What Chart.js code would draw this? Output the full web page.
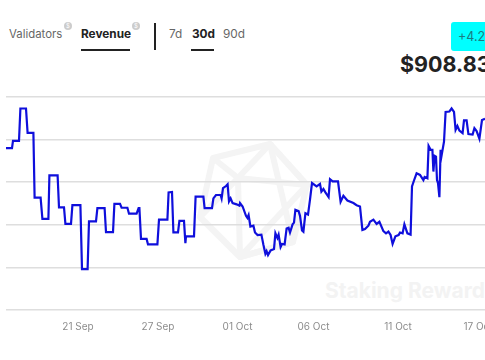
<!DOCTYPE html>
<html>
<head>
<meta charset="utf-8">
<script src="https://cdn.jsdelivr.net/npm/chart.js@4"></script>
<style>
html, body { margin: 0; padding: 0; background: #fff; width: 485px; height: 360px; overflow: hidden; }
body { position: relative; font-family: Inter, "Open Sans", sans-serif; color: #666; }
.txt { position: absolute; white-space: nowrap; font-size: 11.8px; line-height: 16px; }
.on { color: #222; font-weight: 700; }
.bar { position: absolute; background: #222; }
.info { position: absolute; width: 8px; height: 8px; border-radius: 50%; background: #ccc; color: #fff; font-size: 6px; line-height: 8px; text-align: center; }
#badge { position: absolute; left: 451px; top: 22px; width: 40px; height: 29px; background: #00ffff; border-radius: 3px; color: #1b7c80; font-size: 12.5px; line-height: 29px; padding-left: 7px; box-sizing: border-box; white-space: nowrap; }
#price { position: absolute; left: 400px; top: 51px; font-size: 21.5px; line-height: 26px; font-weight: 700; color: #222; white-space: nowrap; }
#mark { position: absolute; left: 325px; top: 279px; font-size: 21px; line-height: 24px; font-weight: 700; color: #f3f3f3; white-space: nowrap; }
#logo { position: absolute; left: 0; top: 0; }
#chartBox { position: absolute; left: 0; top: 0; width: 485px; height: 360px; }
</style>
</head>
<body>
<svg id="logo" width="485" height="360">
  <g fill="none" stroke="#f4f4f4" stroke-width="6" stroke-linejoin="round">
    <polygon points="213,158 270,144 307,185 293,242 240,257 200,217"/>
    <polyline points="213,158 238,178 270,144 307,185 238,178 200,217 240,257 238,178"/>
    <polyline points="270,144 293,242 240,257 307,185"/>
  </g>
</svg>
<div id="mark">Staking Rewards</div>

<div class="txt" style="left:9px;top:26px;font-size:11.4px">Validators</div>
<div class="info" style="left:64px;top:22px">$</div>
<div class="txt on" style="left:81px;top:26px">Revenue</div>
<div class="info" style="left:132px;top:22px">$</div>
<div class="bar" style="left:81px;top:49px;width:49px;height:2px"></div>
<div class="bar" style="left:154px;top:23px;width:2px;height:27px"></div>
<div class="txt" style="left:169px;top:26px">7d</div>
<div class="txt on" style="left:192px;top:26px">30d</div>
<div class="bar" style="left:191px;top:49px;width:23px;height:2px"></div>
<div class="txt" style="left:223px;top:26px">90d</div>
<div id="badge">+4.21%</div>
<div id="price">$908.83</div>

<div id="chartBox"><canvas id="revenueChart"></canvas></div>

<script>
// Position of each reading along the (uneven) time axis
const samples = [
    0, 3, 3.5, 6.5, 7.2, 10, 10.8, 13.7, 14.3, 17.3, 18.2, 21.2, 21.7, 25.8, 26.5, 29, 29.7, 32.5, 33.2, 37.2,
    38, 40.8, 41.5, 45, 45.7, 49.3, 50, 53.5, 54.2, 57, 57.8, 60.7, 61.5, 65.3, 66.3, 66.7, 67.5, 70.3, 71, 75.7,
    76.5, 80.7, 81.3, 83, 83.7, 86, 86.7, 89, 89.7, 90, 94, 94.8, 98.7, 99.3, 103, 103.7, 105, 107.3, 107.8, 108.5,
    110, 110.8, 111.5, 112.3, 113.3, 115.3, 116.7, 117, 118.3, 120, 120.7, 121.3, 122.2, 123.7, 124.5, 125.8, 127.7, 128.7, 129.7, 130.3,
    131, 132.3, 134, 134.7, 135.7, 136.3, 137.3, 138, 139.3, 140.3, 141.3, 142, 143.3, 144, 144.7, 146.3, 147, 148, 148.7, 149.7,
    151, 152, 153, 155.3, 157, 157.7, 158.7, 159.7, 161.3, 162, 163.3, 166, 167.3, 168.7, 170.7, 173.7, 175.3, 177, 178.2, 179.5,
    181.2, 182, 183.7, 185.3, 186.7, 188.7, 190, 191.2, 192.3, 193.3, 194.7, 196.3, 197, 198.3, 199.2, 200.7, 202.3, 203, 204, 205.3,
    207, 208.7, 209.3, 210.7, 211.3, 212.3, 213.2, 213.7, 214.3, 215, 215.5, 216, 216.7, 217.3, 217.7, 219, 219.8, 221.7, 222.8, 224,
    224.8, 225.7, 226.7, 228.3, 229, 230.3, 231.2, 233.3, 234.2, 235.3, 236.7, 238, 239.5
];
// Revenue in dollars
const revenue = [
    840, 840, 857, 857, 933, 933, 876, 876, 724, 724, 674, 674, 776, 776, 701, 701, 662, 662, 706, 706,
    556, 556, 668, 668, 699, 699, 643, 643, 709, 709, 700, 700, 686, 686, 699, 699, 627, 627, 614, 614,
    672, 672, 736, 737, 642, 642, 669, 669, 617, 633, 633, 726, 726, 699, 699, 722, 730, 730, 722, 746,
    751, 755, 715, 722, 711, 708, 705, 711, 703, 681, 676, 683, 656, 658, 642, 636, 637, 613, 592, 598,
    589, 600, 603, 640, 629, 637, 608, 615, 614, 651, 653, 642, 661, 665, 695, 692, 681, 647, 644, 687,
    684, 719, 758, 750, 756, 738, 744, 736, 725, 767, 762, 762, 714, 728, 717, 711, 706, 703, 648, 650,
    658, 667, 672, 662, 667, 645, 640, 644, 636, 615, 633, 636, 642, 640, 661, 640, 637, 750, 764, 781,
    777, 765, 772, 769, 845, 836, 836, 785, 822, 820, 765, 758, 725, 836, 820, 855, 925, 926, 933, 925,
    883, 892, 881, 875, 905, 905, 873, 872, 887, 880, 862, 906, 908.83
];
const tickPositions = [36, 76, 115.75, 153.75, 196, 236];
const tickLabels = ['21 Sep', '27 Sep', '01 Oct', '06 Oct', '11 Oct', '17 Oct'];

const points = samples.map((s, i) => ({ x: s, y: revenue[i] }));

const ctx = document.getElementById('revenueChart').getContext('2d');
new Chart(ctx, {
    type: 'line',
    data: {
        datasets: [{
            data: points,
            borderColor: '#0f0fdc',
            borderWidth: 2.2,
            pointRadius: 0,
            tension: 0,
            fill: false,
            clip: false
        }]
    },
    options: {
        responsive: true,
        maintainAspectRatio: false,
        animation: false,
        layout: { padding: { left: 6, right: 0, top: 97, bottom: 0 } },
        plugins: { legend: { display: false }, tooltip: { enabled: false } },
        scales: {
            x: {
                type: 'linear',
                min: 0,
                max: 239.5,
                grid: { display: false, drawTicks: false },
                border: { display: false },
                afterBuildTicks: (axis) => { axis.ticks = tickPositions.map(v => ({ value: v })); },
                afterFit: (axis) => { axis.height = 50; axis.paddingLeft = 0; axis.paddingRight = 0; },
                ticks: {
                    autoSkip: false,
                    maxRotation: 0,
                    padding: 11,
                    color: '#8c8c8c',
                    font: { family: 'Inter', size: 10 },
                    callback: (v) => tickLabels[tickPositions.indexOf(v)]
                }
            },
            y: {
                min: 460,
                max: 960,
                grid: { color: '#dedede', lineWidth: 1.5, drawTicks: false },
                border: { display: false },
                afterFit: (axis) => { axis.width = 0; },
                ticks: { display: false, stepSize: 100 }
            }
        }
    }
});
</script>
</body>
</html>
